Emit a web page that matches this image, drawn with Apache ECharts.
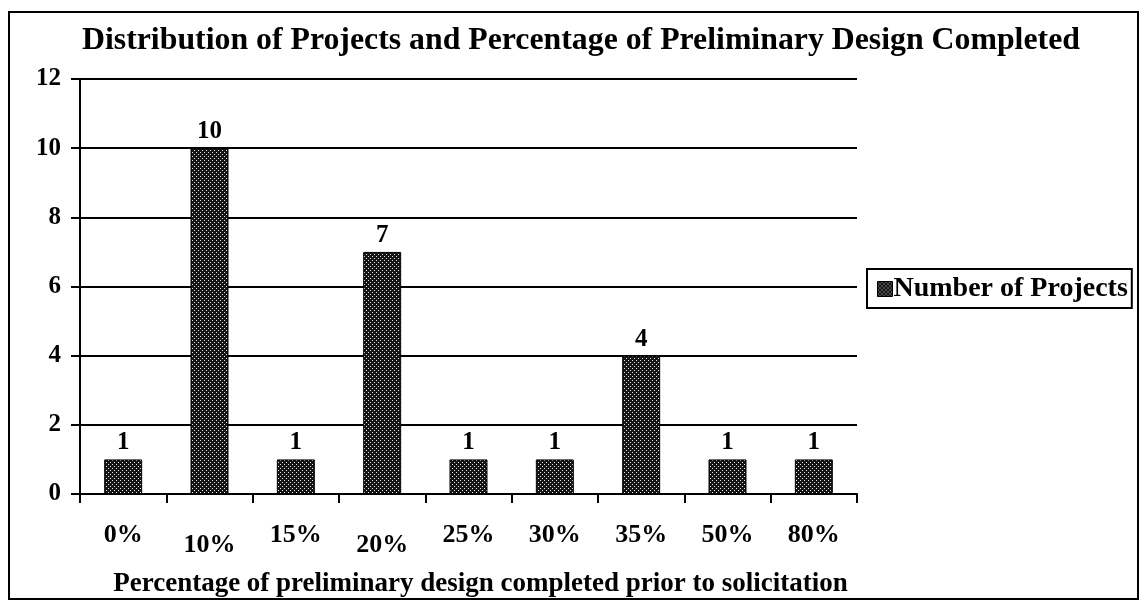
<!DOCTYPE html>
<html>
<head>
<meta charset="utf-8">
<script src="https://cdn.jsdelivr.net/npm/echarts@6/dist/echarts.min.js"></script>
<style>
html,body{margin:0;padding:0;background:#fff;}
#c{width:1143px;height:603px;}
</style>
</head>
<body>
<div id="c"></div>
<script>
const categories = ['0%', '10%', '15%', '20%', '25%', '30%', '35%', '50%', '80%'];
const lowLabels = ['10%', '20%'];
const projectCounts = [1, 10, 1, 7, 1, 1, 4, 1, 1];
const yTicks = { min: 0, max: 12, interval: 2 };
const seriesName = 'Number of Projects';
const titleText = 'Distribution of Projects and Percentage of Preliminary Design Completed';
const xAxisTitle = 'Percentage of preliminary design completed prior to solicitation';

const FONT = '"Liberation Serif", "Times New Roman", serif';

const pc = document.createElement('canvas');
pc.width = 4; pc.height = 4;
const g = pc.getContext('2d');
g.fillStyle = '#151515';
g.fillRect(0, 0, 4, 4);
g.fillStyle = '#e8e8e8';
g.fillRect(0, 0, 1, 1);
g.fillRect(2, 2, 1, 1);
const pattern = { image: pc, repeat: 'repeat' };

const chart = echarts.init(document.getElementById('c'), null, { renderer: 'canvas' });
chart.setOption({
  animation: false,
  backgroundColor: '#fff',
  title: {
    text: titleText,
    left: 82,
    top: 25,
    padding: 0,
    textStyle: { fontFamily: FONT, fontWeight: 'bold', fontSize: 31.8, color: '#000' }
  },
  legend: {
    data: [seriesName],
    left: 867,
    top: 269,
    orient: 'vertical',
    borderColor: '#000',
    borderWidth: 2,
    padding: [6, 4, 5, 10],
    itemWidth: 15,
    itemHeight: 15,
    itemGap: 0,
    icon: 'rect',
    textStyle: { fontFamily: FONT, fontWeight: 'bold', fontSize: 28, color: '#000', padding: [2, 0, 0, -4] },
    itemStyle: { color: pattern, borderColor: '#000', borderWidth: 1 }
  },
  grid: { left: 80, right: 286, top: 79, bottom: 108, containLabel: false },
  xAxis: {
    type: 'category',
    data: categories,
    axisLine: { show: true, lineStyle: { color: '#000', width: 2 } },
    axisTick: { show: true, length: 9, lineStyle: { color: '#000', width: 2 }, alignWithLabel: false },
    axisLabel: {
      interval: 0,
      margin: 28,
      fontFamily: FONT, fontWeight: 'bold', fontSize: 26, color: '#000',
      formatter: v => lowLabels.includes(v) ? '{low|' + v + '}' : v,
      rich: { low: { fontFamily: FONT, fontWeight: 'bold', fontSize: 26, color: '#000', padding: [10, 0, 0, 0] } }
    },
    name: xAxisTitle,
    nameLocation: 'middle',
    nameGap: 77,
    nameTextStyle: { fontFamily: FONT, fontWeight: 'bold', fontSize: 27, color: '#000', padding: [0, 0, 0, 24] }
  },
  yAxis: {
    type: 'value',
    min: yTicks.min,
    max: yTicks.max,
    interval: yTicks.interval,
    axisLine: { show: true, lineStyle: { color: '#000', width: 2 } },
    axisTick: { show: true, length: 9, lineStyle: { color: '#000', width: 2 } },
    axisLabel: { margin: 19, fontFamily: FONT, fontWeight: 'bold', fontSize: 25, color: '#000' },
    splitLine: { show: true, lineStyle: { color: '#000', width: 2 } }
  },
  series: [{
    name: seriesName,
    type: 'bar',
    data: projectCounts,
    barWidth: '44%',
    itemStyle: { color: pattern, borderColor: '#000', borderWidth: 1 },
    label: {
      show: true,
      position: 'top',
      distance: 4,
      fontFamily: FONT, fontWeight: 'bold', fontSize: 25, color: '#000'
    }
  }],
  graphic: [{
    type: 'rect',
    shape: { x: 9, y: 12, width: 1129, height: 587 },
    style: { fill: 'none', stroke: '#000', lineWidth: 2 },
    silent: true,
    z: 100
  }]
});
</script>
</body>
</html>
